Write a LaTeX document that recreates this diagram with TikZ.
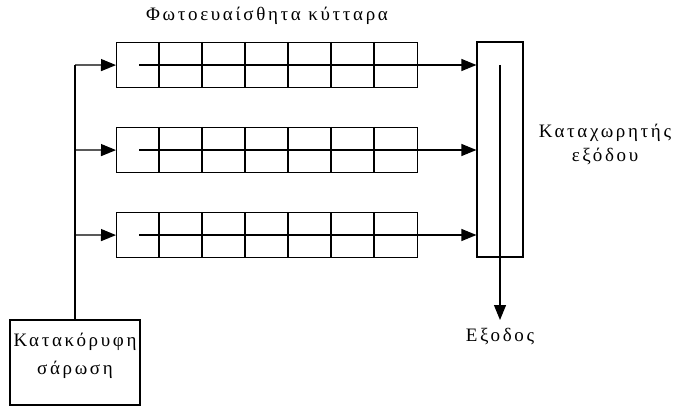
\documentclass[tikz,border=0pt]{standalone}
\usepackage{fontspec}
\setmainfont[LetterSpace=14]{Liberation Serif}
\usetikzlibrary{arrows.meta}
\begin{document}
\begin{tikzpicture}[x=1pt,y=-1pt,
  line width=1.2pt,
  cell/.style={draw,rectangle,inner sep=0pt,minimum width=43pt,minimum height=45pt,anchor=north west},
  arr/.style={-{Triangle[length=15pt,width=12pt]}},
  lbl/.style={font=\fontsize{19}{24}\selectfont,align=center,inner sep=0pt}]
\useasboundingbox (0,0) rectangle (674,406);
% cells
\foreach \r/\y in {1/42,2/127,3/212}{
  \foreach \c in {1,...,7}{
    \node[cell] (r\r c\c) at ({116+43*(\c-1)},\y) {};
  }
  \foreach \c in {2,...,7}{
    \draw[line width=2pt] (r\r c\c.north west) -- (r\r c\c.south west);
  }
}
% output register
\node[draw,rectangle,inner sep=0pt,minimum width=46pt,minimum height=215pt] (reg) at (500,149.5) {};
% scan box
\node[draw,rectangle,inner sep=0pt,minimum width=130pt,minimum height=85pt] (scan) at (75,362.5) {};
\node[lbl,font=\fontsize{19}{28}\selectfont] (scantext) at (75,356) {Κατακόρυφη\\σάρωση};
% labels
\node[lbl] (title) at (267,16) {Φωτοευαίσθητα κύτταρα};
\node[lbl] (reglbl) at (605,144) {Καταχωρητής\\εξόδου};
\node[lbl,anchor=north] (out) at (500,328) {Εξοδος};
% row shift lines and arrows
\foreach \r/\y in {1/65,2/150,3/235}{
  \coordinate (s\r) at (139,\y);
  \coordinate (b\r) at (75,\y);
  \draw[arr] (s\r) -- (reg.west |- s\r);
  \draw[arr] (b\r) -- (r\r c1.west);
}
% bus
\draw (scan.north) -- (b1);
% output line
\coordinate (rt) at (500,65);
\coordinate (ot) at (500,320);
\draw[arr] (rt) -- (ot);
\end{tikzpicture}
\end{document}
